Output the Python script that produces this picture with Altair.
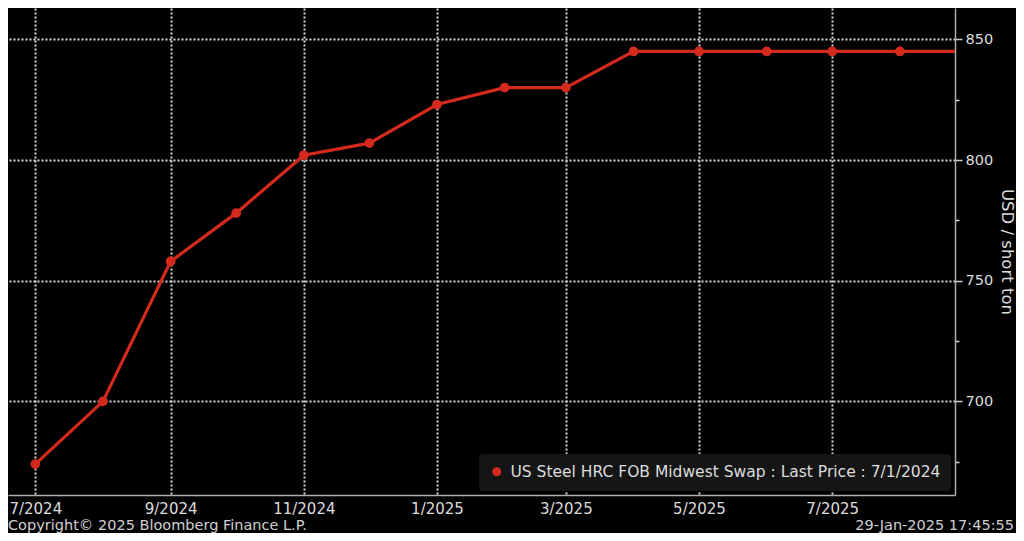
import altair as alt
import pandas as pd

# ---- data ----
dates = ["2024-07-01", "2024-08-01", "2024-09-01", "2024-10-01", "2024-11-01",
         "2024-12-01", "2025-01-01", "2025-02-01", "2025-03-01", "2025-04-01",
         "2025-05-01", "2025-06-01", "2025-07-01", "2025-08-01", "2025-09-01"]
prices = [674, 700, 758, 778, 802, 807, 823, 830, 830, 845, 845, 845, 845, 845, 845]
series_name = "US Steel HRC FOB Midwest Swap : Last Price : 7/1/2024"
y_ticks = [675, 700, 725, 750, 775, 800, 825, 850]
y_title = "USD / short ton"
copyright_text = "Copyright\u00a9 2025 Bloomberg Finance L.P."
timestamp_text = "29-Jan-2025 17:45:55"

RED = "#d42a1e"
FONT = "DejaVu Sans"
W, H = 947, 487

df = pd.DataFrame({"date": dates, "price": prices, "series": [series_name] * len(dates)})

x_enc = alt.X(
    "date:T",
    scale=alt.Scale(
        type="utc",
        domain=[alt.DateTime(year=2024, month=6, date=18, hours=12, utc=True),
                alt.DateTime(year=2025, month=8, date=26, hours=6, utc=True)],
    ),
    axis=alt.Axis(
        title=None,
        tickCount={"interval": "month", "step": 2},
        labelExpr="utcFormat(datum.value, '%-m/%Y')",
        labelFont=FONT, labelFontSize=15, labelColor="#dcdcdc",
        labelPadding=6, ticks=False,
        domainColor="#b0b0b0", domainWidth=1.5,
        grid=True, gridColor="#d8d8d8", gridDash=[2, 2], gridWidth=2,
        labelFlush=False,
    ),
)

y_enc = alt.Y(
    "price:Q",
    scale=alt.Scale(domain=[661.2, 863.0], nice=False, zero=False),
    axis=alt.Axis(
        orient="right", title=y_title, values=y_ticks,
        labelExpr="datum.value % 50 == 0 ? datum.label : ''",
        labelFont=FONT, labelFontSize=14.5, labelColor="#dcdcdc", labelPadding=3,
        titleFont=FONT, titleFontSize=16.5, titleFontWeight="normal", titleColor="#dcdcdc",
        titlePadding=6, titleAngle=90,
        tickColor="#d0d0d0", tickWidth=1.5,
        tickSize={"condition": {"test": "datum.value % 50 == 0", "value": 7}, "value": 4},
        domainColor="#b0b0b0", domainWidth=1.5,
        grid=True, gridColor="#d8d8d8", gridDash=[2, 2], gridWidth=2,
        gridOpacity={"condition": {"test": "datum.value % 50 == 0", "value": 1}, "value": 0},
    ),
)

color_enc = alt.Color(
    "series:N",
    scale=alt.Scale(domain=[series_name], range=[RED]),
    legend=alt.Legend(
        title=None, orient="bottom-right", offset=4,
        fillColor="#151515", cornerRadius=4, padding=10,
        labelFont=FONT, labelFontSize=15.5, labelColor="#dcdcdc", labelLimit=600,
        labelOffset=6,
        symbolType="circle", symbolSize=80, symbolFillColor=RED, symbolStrokeWidth=0,
    ),
)

line = alt.Chart(df).mark_line(strokeWidth=3.2, clip=True).encode(x=x_enc, y=y_enc, color=color_enc)
points = alt.Chart(df).mark_circle(size=95, opacity=1, clip=True, color=RED).encode(
    x="date:T", y="price:Q")

foot_left = alt.Chart(pd.DataFrame({"t": [copyright_text]})).mark_text(
    align="left", baseline="middle", font=FONT, fontSize=14.5, color="#d0d0d0"
).encode(text="t:N", x=alt.value(0), y=alt.value(H + 30.5))

foot_right = alt.Chart(pd.DataFrame({"t": [timestamp_text]})).mark_text(
    align="right", baseline="middle", font=FONT, fontSize=14.5, color="#d0d0d0"
).encode(text="t:N", x=alt.value(1006), y=alt.value(H + 30.5))

chart = alt.layer(line, points, foot_left, foot_right).properties(
    width=W, height=H,
    background="#000000",
    autosize="none",
    padding={"left": 0, "top": 0, "right": 1008 - W, "bottom": 525 - H},
).configure_view(stroke=None)

chart.save("out.html", embed_options={"renderer": "svg", "actions": False})
